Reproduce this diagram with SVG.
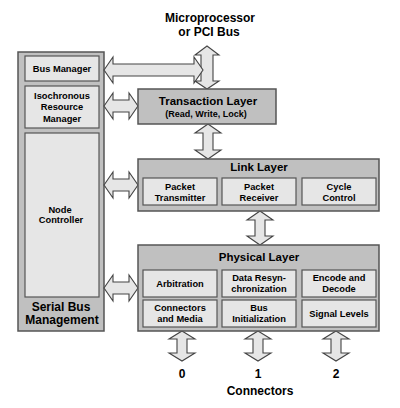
<svg xmlns="http://www.w3.org/2000/svg" width="400" height="408" viewBox="0 0 400 408">
<style>
.outer{fill:#c0c0c0;stroke:#555;stroke-width:1.5}
.inner{fill:#e6e6e6;stroke:#555;stroke-width:1.2}
.arr{fill:#e6e6e6;stroke:#444;stroke-width:1.1;stroke-linejoin:miter}
text{font-family:"Liberation Sans",Arial,sans-serif;font-weight:bold;fill:#000;text-anchor:middle}
.t{font-size:11.5px}
.s{font-size:9.3px}
.b{font-size:12px}
</style>
<rect width="400" height="408" fill="#fff"/>
<g id="title">
<text class="b" x="210" y="22">Microprocessor</text>
<text class="b" x="209" y="36">or PCI Bus</text>
</g>
<g id="serial-bus-management">
<rect class="outer" x="18" y="52" width="86" height="279"/>
<text class="b" x="61" y="311">Serial Bus</text>
<text class="b" x="62" y="324">Management</text>
</g>
<g id="bus-manager">
<rect class="inner" x="25" y="56" width="74" height="25"/>
<text class="s" x="62" y="72">Bus Manager</text>
</g>
<g id="isochronous-resource-manager">
<rect class="inner" x="25" y="86" width="74" height="42"/>
<text class="s" x="62" y="98.5">Isochronous</text>
<text class="s" x="62" y="110">Resource</text>
<text class="s" x="62" y="121.5">Manager</text>
</g>
<g id="node-controller">
<rect class="inner" x="25" y="133" width="74" height="164"/>
<text class="s" x="60" y="212.5">Node</text>
<text class="s" x="61" y="223">Controller</text>
</g>
<g id="connectors">
<polygon class="arr" points="207,46 219,55 213,55 213,81 219,81 207,89 195,81 201,81 201,55 195,55"/>
<polygon class="arr" points="104,70 113,57 113,64 194,64 194,57 203,70 194,83 194,76 113,76 113,83"/>
<polygon class="arr" points="104,106 113,93 113,100 129,100 129,93 138,106 129,119 129,112 113,112 113,119"/>
<polygon class="arr" points="104,185 113,172 113,179 129,179 129,172 138,185 129,198 129,191 113,191 113,198"/>
<polygon class="arr" points="104,288 113,275 113,282 129,282 129,275 138,288 129,301 129,294 113,294 113,301"/>
<polygon class="arr" points="208,124 221,133 213,133 213,150 221,150 208,159 195,150 203,150 203,133 195,133"/>
<polygon class="arr" points="260,211 273,220 265,220 265,236 273,236 260,245 247,236 255,236 255,220 247,220"/>
<polygon class="arr" points="182,331 195,339 187,339 187,353 195,353 182,361 169,353 177,353 177,339 169,339"/>
<polygon class="arr" points="258,331 271,339 263,339 263,353 271,353 258,361 245,353 253,353 253,339 245,339"/>
<polygon class="arr" points="336,331 349,339 341,339 341,353 349,353 336,361 323,353 331,353 331,339 323,339"/>
</g>
<g id="transaction-layer">
<rect class="outer" x="138" y="89" width="138" height="35"/>
<text class="t" x="208" y="105">Transaction Layer</text>
<text font-size="9px" x="206" y="117">(Read, Write, Lock)</text>
</g>
<g id="link-layer">
<rect class="outer" x="138" y="159" width="241" height="52"/>
<text class="t" x="259" y="171">Link Layer</text>
</g>
<g id="packet-transmitter">
<rect class="inner" x="143" y="178" width="74" height="27"/>
<text class="s" x="180" y="189.5">Packet</text>
<text class="s" x="180" y="200.5">Transmitter</text>
</g>
<g id="packet-receiver">
<rect class="inner" x="222" y="178" width="74" height="27"/>
<text class="s" x="259" y="189.5">Packet</text>
<text class="s" x="259" y="200.5">Receiver</text>
</g>
<g id="cycle-control">
<rect class="inner" x="302" y="178" width="74" height="27"/>
<text class="s" x="339" y="189.5">Cycle</text>
<text class="s" x="339" y="200.5">Control</text>
</g>
<g id="physical-layer">
<rect class="outer" x="138" y="245" width="241" height="86"/>
<text class="t" x="259" y="261">Physical Layer</text>
</g>
<g id="arbitration">
<rect class="inner" x="143" y="270" width="74" height="27"/>
<text class="s" x="180" y="286.5">Arbitration</text>
</g>
<g id="data-resynchronization">
<rect class="inner" x="222" y="270" width="74" height="27"/>
<text class="s" x="259" y="280.5">Data Resyn-</text>
<text class="s" x="259" y="291.5">chronization</text>
</g>
<g id="encode-decode">
<rect class="inner" x="302" y="270" width="74" height="27"/>
<text class="s" x="339" y="280.5">Encode and</text>
<text class="s" x="339" y="291.5">Decode</text>
</g>
<g id="connectors-and-media">
<rect class="inner" x="143" y="300" width="74" height="27"/>
<text class="s" x="180" y="310.5">Connectors</text>
<text class="s" x="180" y="321.5">and Media</text>
</g>
<g id="bus-initialization">
<rect class="inner" x="222" y="300" width="74" height="27"/>
<text class="s" x="259" y="310.5">Bus</text>
<text class="s" x="259" y="321.5">Initialization</text>
</g>
<g id="signal-levels">
<rect class="inner" x="302" y="300" width="74" height="27"/>
<text class="s" x="339" y="316.5">Signal Levels</text>
</g>
<g id="ports">
<text class="b" x="182" y="377.5">0</text>
<text class="b" x="258" y="377.5">1</text>
<text class="b" x="336" y="377.5">2</text>
<text class="b" x="260" y="394.5">Connectors</text>
</g>
</svg>
